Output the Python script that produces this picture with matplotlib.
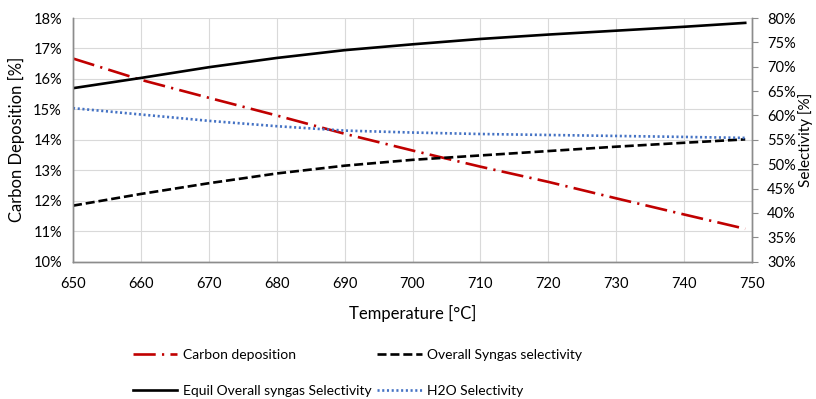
import matplotlib
matplotlib.use("Agg")
import matplotlib.pyplot as plt
from matplotlib.ticker import FuncFormatter

plt.rcParams['font.family'] = ['Lato', 'DejaVu Sans']
plt.rcParams['lines.scale_dashes'] = False

# data
temps = [650, 660, 670, 680, 690, 700, 710, 720, 730, 740, 749]
carbon_dep = [16.67, 15.97, 15.38, 14.80, 14.20, 13.65, 13.12, 12.62, 12.08, 11.55, 11.08]
syngas_sel = [41.5, 43.9, 46.1, 48.1, 49.7, 50.9, 51.8, 52.7, 53.6, 54.4, 55.1]
equil_sel = [65.6, 67.7, 69.9, 71.8, 73.4, 74.6, 75.7, 76.6, 77.4, 78.2, 79.0]
h2o_sel = [61.5, 60.2, 58.9, 57.8, 56.9, 56.5, 56.2, 56.0, 55.8, 55.6, 55.4]

fig = plt.figure(figsize=(8.16, 3.99), dpi=100)
ax = fig.add_axes([73/816, 1-261.7/399, (752-73)/816, (261.7-18)/399])
ax2 = ax.twinx()

grey = '#8c8c8c'
fs = 10.5

# left axis: carbon deposition
l1, = ax.plot(temps, carbon_dep, color='#C00000', lw=1.9,
              dashes=(16, 4.5, 1.6, 4.5), label='Carbon deposition')
ax.set_xlim(650, 750)
ax.set_ylim(10, 18)
ax.set_xticks(range(650, 751, 10))
ax.set_yticks(range(10, 19))
ax.yaxis.set_major_formatter(FuncFormatter(lambda v, p: f'{v:.0f}%'))
ax.grid(True, color='#d9d9d9', lw=0.8)
ax.set_axisbelow(True)
ax.tick_params(axis='y', length=0, labelsize=fs, pad=8)
ax.tick_params(axis='x', length=0, labelsize=fs, pad=11)
ax.set_xlabel('Temperature [°C]', fontsize=12, labelpad=10)
ax.set_ylabel('Carbon Deposition [%]', fontsize=12, labelpad=6)

# right axis: selectivities
l2, = ax2.plot(temps, syngas_sel, color='black', lw=1.9, dashes=(6.5, 2.8),
               label='Overall Syngas selectivity')
l3, = ax2.plot(temps, equil_sel, color='black', lw=1.9,
               label='Equil Overall syngas Selectivity')
l4, = ax2.plot(temps, h2o_sel, color='#4472C4', lw=1.9, dashes=(1.5, 1.9),
               label='H2O Selectivity')
ax2.set_ylim(30, 80)
ax2.set_yticks(range(30, 81, 5))
ax2.yaxis.set_major_formatter(FuncFormatter(lambda v, p: f'{v:.0f}%'))
ax2.tick_params(axis='y', length=4, color=grey, labelsize=fs, pad=7)
ax2.set_ylabel('Selectivity [%]', fontsize=11)
ax2.yaxis.set_label_coords(1.068, 0.5)  # keep it just inside the right edge

for a in (ax, ax2):
    a.spines['top'].set_visible(False)
    for s in ('left', 'bottom', 'right'):
        a.spines[s].set_color(grey)
        a.spines[s].set_linewidth(1.0)

# column-first fill: rows become (Carbon, Overall) and (Equil, H2O)
fig.legend(handles=[l1, l3, l2, l4], loc='upper left',
           bbox_to_anchor=(133/816, 1-349/399), ncol=2, frameon=False,
           fontsize=10, handlelength=3.2, handletextpad=0.4,
           columnspacing=0.4, labelspacing=1.75, borderpad=0, borderaxespad=0)

fig.savefig('out.png', dpi=100)
